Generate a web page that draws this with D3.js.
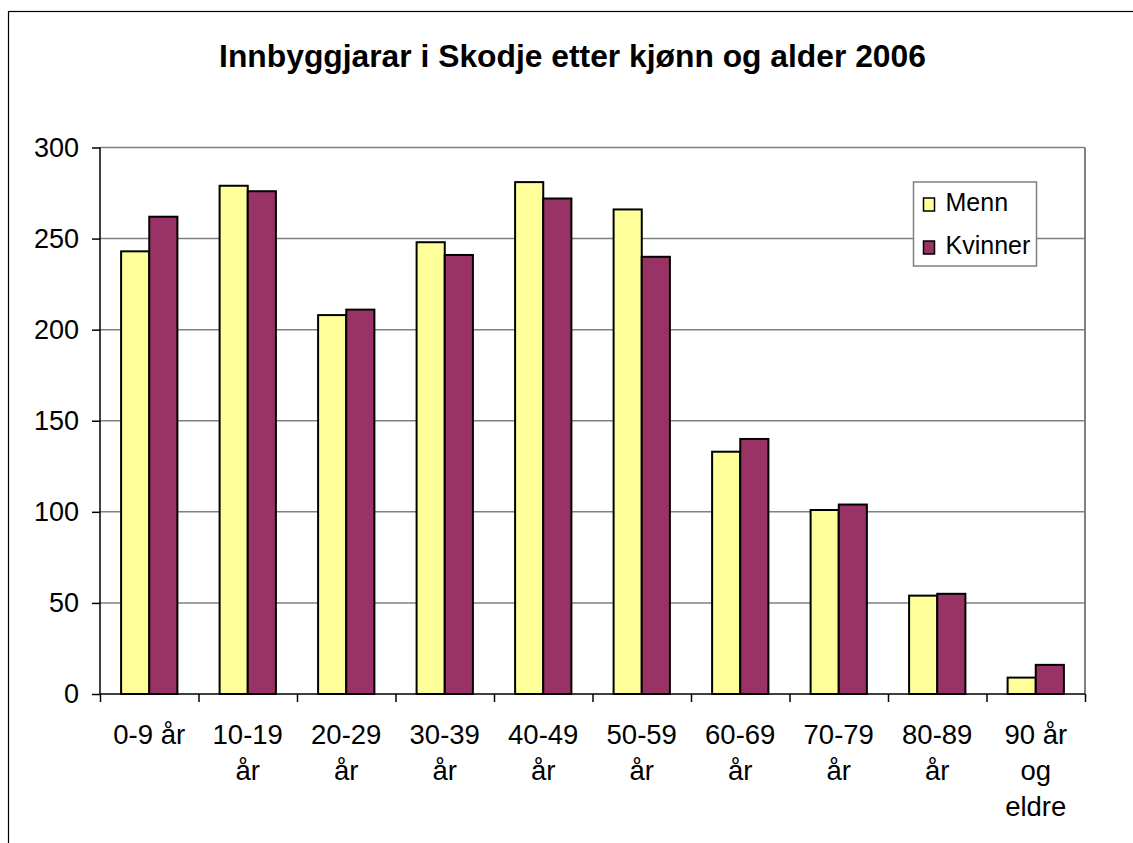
<!DOCTYPE html>
<html>
<head>
<meta charset="utf-8">
<script src="https://cdn.jsdelivr.net/npm/d3@7"></script>
<style>
  body { margin: 0; background: #fff; }
  svg { display: block; font-family: "Liberation Sans", Arial, sans-serif; }
</style>
</head>
<body>
<div id="chart"></div>
<script>
// data
var categories = ["0-9 år", "10-19 år", "20-29 år", "30-39 år", "40-49 år",
                  "50-59 år", "60-69 år", "70-79 år", "80-89 år", "90 år og eldre"];
var tickLines = [["0-9 år"], ["10-19", "år"], ["20-29", "år"], ["30-39", "år"], ["40-49", "år"],
                 ["50-59", "år"], ["60-69", "år"], ["70-79", "år"], ["80-89", "år"], ["90 år", "og", "eldre"]];
var series = ["Menn", "Kvinner"];
var menn = [243, 279, 208, 248, 281, 266, 133, 101, 54, 9];
var kvinner = [262, 276, 211, 241, 272, 240, 140, 104, 55, 16];
var yTicks = [0, 50, 100, 150, 200, 250, 300];
var colors = {"Menn": "#FFFF99", "Kvinner": "#993366"};

var width = 1133, height = 843;
var plotLeft = 100, plotRight = 1085, plotTop = 147.5, plotBottom = 694;

var svg = d3.select("#chart").append("svg")
    .attr("width", width)
    .attr("height", height);

// chart area border (runs off the picture on right and bottom)
svg.append("rect")
    .attr("x", 8.5).attr("y", 11.5)
    .attr("width", 1140).attr("height", 850)
    .attr("fill", "#fff")
    .attr("stroke", "#000")
    .attr("stroke-width", 1.2);

svg.append("text")
    .attr("x", 572.5).attr("y", 67)
    .attr("text-anchor", "middle")
    .attr("font-size", 31.8)
    .attr("font-weight", "bold")
    .text("Innbyggjarar i Skodje etter kjønn og alder 2006");

var xScale = d3.scaleBand().domain(categories).range([plotLeft, plotRight]);
var xSub = d3.scaleBand().domain(series).range([0, xScale.bandwidth()]).paddingOuter(0.75);
var yScale = d3.scaleLinear().domain([0, 300]).range([plotBottom, plotTop]);

// gridlines
svg.append("g").selectAll("line")
    .data(yTicks.filter(function (t) { return t > 0; }))
    .enter().append("line")
    .attr("x1", plotLeft).attr("x2", plotRight)
    .attr("y1", function (t) { return yScale(t); })
    .attr("y2", function (t) { return yScale(t); })
    .attr("stroke", "#808080")
    .attr("stroke-width", 1.5);

// right border of plot area
svg.append("line")
    .attr("x1", plotRight).attr("x2", plotRight)
    .attr("y1", plotTop).attr("y2", plotBottom)
    .attr("stroke", "#808080")
    .attr("stroke-width", 2);

// bars
var rows = categories.map(function (c, i) {
    return {cat: c, values: [{s: "Menn", v: menn[i]}, {s: "Kvinner", v: kvinner[i]}]};
});

var groups = svg.append("g").selectAll("g")
    .data(rows).enter().append("g")
    .attr("transform", function (d) { return "translate(" + xScale(d.cat) + ",0)"; });

groups.selectAll("rect")
    .data(function (d) { return d.values; })
    .enter().append("rect")
    .attr("x", function (d) { return xSub(d.s); })
    .attr("y", function (d) { return yScale(d.v); })
    .attr("width", xSub.bandwidth())
    .attr("height", function (d) { return yScale(0) - yScale(d.v); })
    .attr("fill", function (d) { return colors[d.s]; })
    .attr("stroke", "#000")
    .attr("stroke-width", 2);

// y axis
var yAxis = d3.axisLeft(yScale).tickValues(yTicks).tickSize(8).tickPadding(13);
var gy = svg.append("g")
    .attr("transform", "translate(" + plotLeft + ",0)")
    .call(yAxis);
gy.select(".domain").attr("stroke", "#000").attr("stroke-width", 1.5)
    .attr("d", "M0," + plotTop + "V" + plotBottom);
gy.selectAll(".tick line").attr("stroke", "#000").attr("stroke-width", 1.5);
gy.selectAll(".tick text").attr("font-size", 27).attr("fill", "#000")
    .attr("font-family", "Liberation Sans, Arial, sans-serif");

// x axis, ticks at category boundaries
var boundary = d3.scaleLinear().domain([0, categories.length]).range([plotLeft, plotRight]);
var xAxis = d3.axisBottom(boundary).tickValues(d3.range(categories.length + 1)).tickSize(8).tickFormat("");
var gx = svg.append("g")
    .attr("transform", "translate(0," + plotBottom + ")")
    .call(xAxis);
gx.select(".domain").attr("stroke", "#000").attr("stroke-width", 1.5)
    .attr("d", "M" + plotLeft + ",0H" + plotRight);
gx.selectAll(".tick line").attr("stroke", "#000").attr("stroke-width", 1.5);

// category labels
var labels = svg.append("g").selectAll("text")
    .data(categories).enter().append("text")
    .attr("text-anchor", "middle")
    .attr("font-size", 27.5)
    .attr("x", function (c) { return xScale(c) + xScale.bandwidth() / 2; })
    .attr("y", 744);

labels.selectAll("tspan")
    .data(function (c, i) { return tickLines[i]; })
    .enter().append("tspan")
    .attr("x", function () { var c = d3.select(this.parentNode).datum(); return xScale(c) + xScale.bandwidth() / 2; })
    .attr("dy", function (t, j) { return j === 0 ? 0 : 36; })
    .text(function (t) { return t; });

// legend
var legend = svg.append("g").attr("transform", "translate(913.5,182)");
legend.append("rect")
    .attr("width", 123).attr("height", 84)
    .attr("fill", "#fff")
    .attr("stroke", "#808080")
    .attr("stroke-width", 1.5);

var items = legend.selectAll("g.item")
    .data(series).enter().append("g")
    .attr("class", "item")
    .attr("transform", function (s, i) { return "translate(10," + (16 + i * 43) + ")"; });

items.append("rect")
    .attr("width", 11).attr("height", 13)
    .attr("fill", function (s) { return colors[s]; })
    .attr("stroke", "#000")
    .attr("stroke-width", 1.5);

items.append("text")
    .attr("x", 22).attr("y", 13)
    .attr("font-size", 25)
    .text(function (s) { return s; });
</script>
</body>
</html>
